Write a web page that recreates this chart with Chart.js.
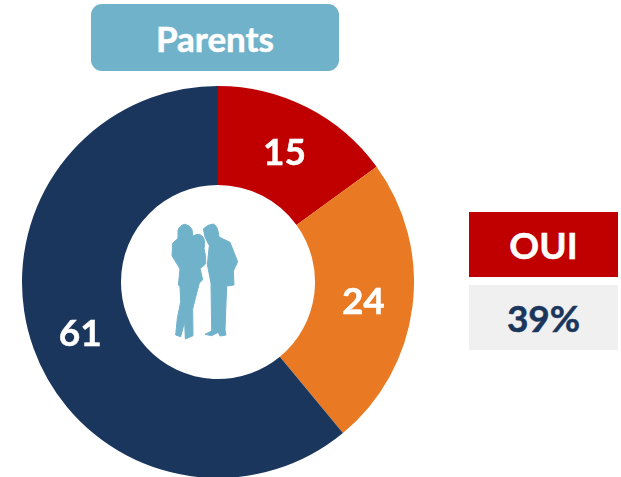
<!DOCTYPE html>
<html>
<head>
<meta charset="utf-8">
<script src="https://cdn.jsdelivr.net/npm/chart.js@4"></script>
<style>
html,body{margin:0;padding:0;background:#fff;width:621px;height:477px;overflow:hidden;font-family:Lato,"Open Sans",sans-serif;font-weight:700}
.abs{position:absolute}
.box{display:flex;align-items:center;justify-content:center;-webkit-text-stroke:0.5px currentColor}
#title{left:91px;top:4px;width:248px;height:67px;background:#71b2cb;border-radius:11px;color:#fff;font-size:35px}
#oui{left:469px;top:212px;width:149px;height:65px;background:#c00000;color:#fff;font-size:37px}
#pct{left:469px;top:285px;width:149px;height:65px;background:#f0f0f0;color:#1b365d;font-size:37px}
#wrap{left:22px;top:86px;width:392px;height:392px}
#icon{left:150px;top:205px;width:110px;height:145px}
</style>
</head>
<body>
<div class="abs" id="wrap"><canvas id="c" width="392" height="392"></canvas></div>
<svg class="abs" id="icon" viewBox="0 0 330 435" aria-hidden="true">
<path fill="#71b2cb" stroke="#71b2cb" stroke-width="3" stroke-linejoin="round" d="M84 76 Q90 60 104 58 Q120 60 126 74 L129 94 Q136 86 150 89 Q165 96 164 116 L162 130 Q168 150 167 176 L156 187 L150 190 L158 224 L148 234 L136 280 L128 312 L129 392 L106 402 L104 350 L92 395 L77 390 L82 340 L92 290 L90 245 L85 240 L90 192 L66 152 L68 115 L84 100 Z"/>
<path fill="#71b2cb" stroke="#71b2cb" stroke-width="3" stroke-linejoin="round" d="M160 72 Q172 58 190 57 Q204 62 207 96 L240 112 L263 170 L250 198 L252 240 L230 243 L225 375 L228 390 L210 393 L205 382 L185 392 L165 388 L185 378 L183 235 L172 178 L178 122 L165 96 Z"/>
</svg>
<div class="abs box" id="title">Parents</div>
<div class="abs box" id="oui">OUI</div>
<div class="abs box" id="pct">39%</div>
<script>
const categories = ["A", "B", "C"];
const values = [15, 24, 61];
const colors = ["#c00000", "#e97a23", "#1b365d"];

const sliceLabels = {
  id: "sliceLabels",
  afterDatasetsDraw(chart) {
    const ctx = chart.ctx;
    const arcs = chart.getDatasetMeta(0).data;
    ctx.save();
    ctx.fillStyle = "#fff";
    ctx.strokeStyle = "#fff";
    ctx.lineWidth = 0.5;
    ctx.font = '700 37px Lato, "Open Sans", sans-serif';
    ctx.textAlign = "center";
    ctx.textBaseline = "middle";
    arcs.forEach((arc, i) => {
      const p = arc.getCenterPoint();
      ctx.fillText(String(values[i]), p.x, p.y + 2);
      ctx.strokeText(String(values[i]), p.x, p.y + 2);
    });
    ctx.restore();
  }
};

new Chart(document.getElementById("c"), {
  type: "doughnut",
  data: {
    labels: categories,
    datasets: [{ data: values, backgroundColor: colors, borderWidth: 0 }]
  },
  options: {
    responsive: false,
    animation: false,
    cutout: "49.5%",
    layout: { padding: 0 },
    plugins: { legend: { display: false }, tooltip: { enabled: false } }
  },
  plugins: [sliceLabels]
});
</script>
</body>
</html>
